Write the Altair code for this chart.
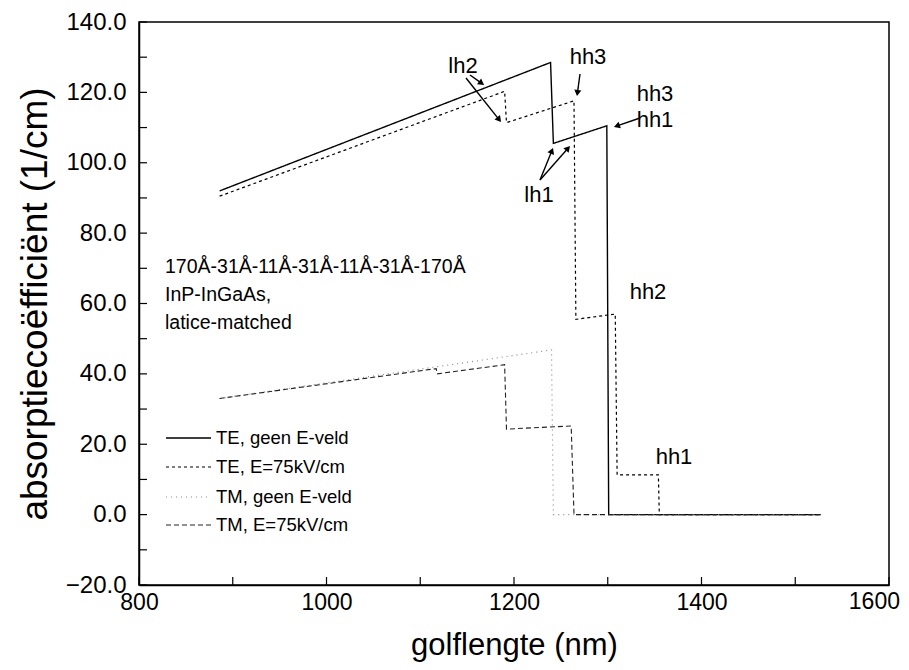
import math
import altair as alt
import pandas as pd

# ---------------- data ----------------
series_names = ["TE, geen E-veld", "TE, E=75kV/cm", "TM, geen E-veld", "TM, E=75kV/cm"]

te0_nm = [886, 1239, 1242, 1299, 1301, 1527]
te0_ab = [92.0, 128.5, 105.5, 110.5, 0.0, 0.0]

te1_nm = [886, 1190, 1192, 1264, 1266, 1308, 1310, 1354, 1355, 1527]
te1_ab = [90.5, 120.3, 111.4, 117.6, 55.5, 57.0, 11.3, 11.3, 0.0, 0.0]

tm0_nm = [886, 1240, 1242, 1527]
tm0_ab = [33.0, 46.8, 0.0, 0.0]

tm1_nm = [886, 1117, 1118, 1190, 1192, 1261, 1264, 1527]
tm1_ab = [33.0, 41.5, 40.0, 42.6, 24.3, 25.2, 0.0, 0.0]

x_tick_values = [800, 900, 1000, 1100, 1200, 1300, 1400, 1500, 1600]
x_label_values = [800, 1000, 1200, 1400]
x_last_label = "1600"
y_tick_values = [-20, -10, 0, 10, 20, 30, 40, 50, 60, 70, 80, 90, 100, 110, 120, 130, 140]
y_label_values = [-20, 0, 20, 40, 60, 80, 100, 120, 140]

info_lines = ["170Å-31Å-11Å-31Å-11Å-31Å-170Å", "InP-InGaAs,", "latice-matched"]

# ---------------- layout / style ----------------
W, H = 750, 563
PAD_R = 12
FONT = "Liberation Sans"

styles = [
    dict(color="#000000", strokeDash=[1, 0], strokeWidth=1.4),
    dict(color="#000000", strokeDash=[3, 3], strokeWidth=1.2),
    dict(color="#8a8a8a", strokeDash=[1, 4], strokeWidth=1.2),
    dict(color="#222222", strokeDash=[5, 3], strokeWidth=1.1),
]

x_enc = alt.X(
    "nm:Q",
    scale=alt.Scale(domain=[800, 1600], nice=False, zero=False),
    axis=alt.Axis(values=x_label_values, format="d", ticks=False, grid=False,
                  labelFlush=False, labelPadding=6, labelFontSize=23,
                  title="golflengte (nm)", titlePadding=16, titleFontSize=31),
)
y_enc = alt.Y(
    "a:Q",
    scale=alt.Scale(domain=[-20, 140], nice=False, zero=False),
    axis=alt.Axis(values=y_label_values, format=".1f", ticks=False, grid=False,
                  labelFlush=False, labelPadding=13, labelFontSize=24,
                  title="absorptiecoëfficiënt (1/cm)", titlePadding=11, titleFontSize=37),
)

layers = []
all_series = [(te0_nm, te0_ab), (te1_nm, te1_ab), (tm0_nm, tm0_ab), (tm1_nm, tm1_ab)]
for name, (xs, ys), st in zip(series_names, all_series, styles):
    df = pd.DataFrame({"nm": xs, "a": ys, "i": list(range(len(xs))), "series": name})
    layers.append(
        alt.Chart(df).mark_line(
            color=st["color"], strokeDash=st["strokeDash"], strokeWidth=st["strokeWidth"]
        ).encode(x=x_enc, y=y_enc, order="i:Q")
    )

# inward ticks
xt = pd.DataFrame({"nm": x_tick_values})
layers.append(alt.Chart(xt).mark_rule(color="black", strokeWidth=1.2).encode(
    x=alt.X("nm:Q"), y=alt.value(H), y2=alt.value(H - 8)))
yt = pd.DataFrame({"a": y_tick_values})
layers.append(alt.Chart(yt).mark_rule(color="black", strokeWidth=1.2).encode(
    y=alt.Y("a:Q"), x=alt.value(0), x2=alt.value(8)))

one = pd.DataFrame({"k": [0]})

# last x tick label, kept inside the page
layers.append(alt.Chart(one).mark_text(
    align="right", baseline="top", font=FONT, fontSize=23, color="black"
).encode(x=alt.value(W + PAD_R - 1), y=alt.value(H + 6), text=alt.value(x_last_label)))

# info text block
for txt, yy in zip(info_lines, [245, 273, 301]):
    layers.append(alt.Chart(one).mark_text(
        align="left", baseline="middle", font=FONT, fontSize=19.5, color="black"
    ).encode(x=alt.value(26), y=alt.value(yy), text=alt.value(txt)))

# manual legend
for name, st, yy in zip(series_names, styles, [416, 445, 475, 503]):
    layers.append(alt.Chart(one).mark_rule(
        color=st["color"], strokeDash=st["strokeDash"], strokeWidth=st["strokeWidth"]
    ).encode(x=alt.value(27), x2=alt.value(72), y=alt.value(yy)))
    layers.append(alt.Chart(one).mark_text(
        align="left", baseline="middle", font=FONT, fontSize=18.5, color="black"
    ).encode(x=alt.value(77), y=alt.value(yy), text=alt.value(name)))

# annotation labels
ann_text = ["lh2", "hh3", "hh3", "hh1", "lh1", "hh2", "hh1"]
ann_pos = [(324, 44), (449, 35), (516, 72), (516, 98), (400, 173), (509, 270), (535, 435)]
for t, (ax, ay) in zip(ann_text, ann_pos):
    layers.append(alt.Chart(one).mark_text(
        align="center", baseline="middle", font=FONT, fontSize=22, color="black"
    ).encode(x=alt.value(ax), y=alt.value(ay), text=alt.value(t)))

# arrows (pixel layout)
arrows = [
    ((331, 53), (345, 63)),
    ((327, 56), (362, 100)),
    ((441, 52), (438, 74)),
    ((501, 96), (475, 105)),
    ((401, 158), (414, 126)),
    ((401, 158), (431, 124)),
]
for (fx, fy), (tx, ty) in arrows:
    dx, dy = tx - fx, ty - fy
    L = math.hypot(dx, dy)
    ux, uy = dx / L, dy / L
    hx, hy = tx - ux * 4, ty - uy * 4
    ang = math.degrees(math.atan2(dx, -dy)) % 360
    layers.append(alt.Chart(one).mark_rule(color="black", strokeWidth=1.4).encode(
        x=alt.value(fx), y=alt.value(fy), x2=alt.value(hx), y2=alt.value(hy)))
    layers.append(alt.Chart(one).mark_point(
        shape="triangle", filled=True, size=50, angle=ang, color="black", opacity=1
    ).encode(x=alt.value(hx), y=alt.value(hy)))

chart = alt.layer(*layers).properties(
    width=W, height=H,
    autosize=alt.AutoSizeParams(type="none"),
    padding={"left": 131, "top": 14, "right": PAD_R, "bottom": 84},
).configure_axis(
    grid=False, domainColor="black", domainWidth=1.5,
    labelFont=FONT, labelColor="black",
    titleFont=FONT, titleFontWeight="normal", titleColor="black",
).configure_view(stroke="black", strokeWidth=1.5)

chart.save("out.html", embed_options={"renderer": "svg", "actions": False})
